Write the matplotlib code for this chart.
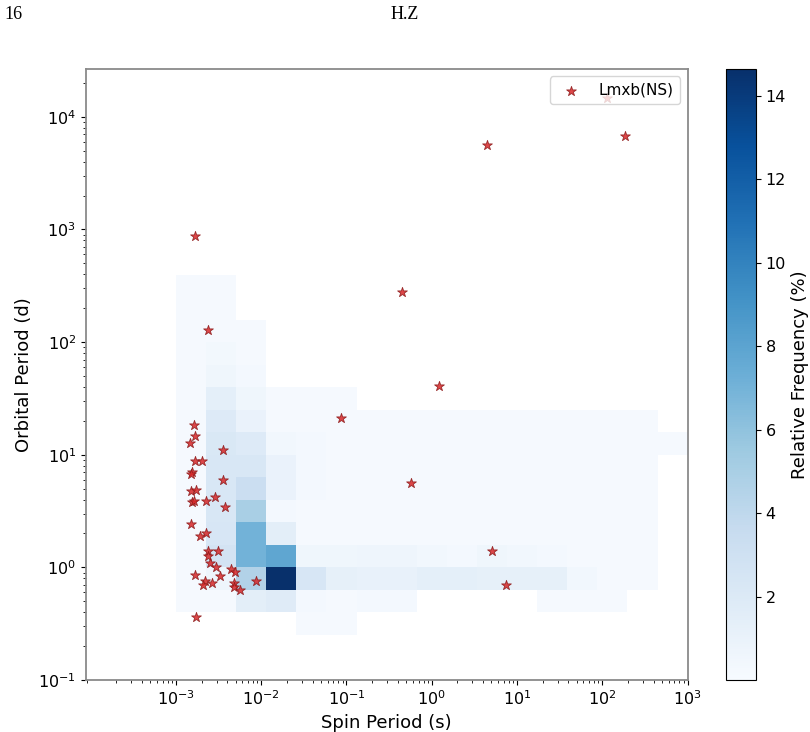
import numpy as np
import matplotlib
matplotlib.use("Agg")
import matplotlib.pyplot as plt

# bin edges (log10)
x_edge_exp = np.linspace(-3, 3, 18)
y_edge_exp = np.linspace(-0.6, 2.6, 17)

# relative frequency (%) per bin, rows from top (10^2.4-10^2.6) down to bottom (10^-0.6-10^-0.4)
freq_rows = [
    [0.2, 0.2, 0,   0,    0,   0,   0,    0,    0,   0,    0,   0,   0,    0,   0,   0,   0],
    [0.2, 0.2, 0,   0,    0,   0,   0,    0,    0,   0,    0,   0,   0,    0,   0,   0,   0],
    [0.2, 0.2, 0.2, 0,    0,   0,   0,    0,    0,   0,    0,   0,   0,    0,   0,   0,   0],
    [0.2, 0.4, 0.2, 0,    0,   0,   0,    0,    0,   0,    0,   0,   0,    0,   0,   0,   0],
    [0.2, 0.6, 0.3, 0,    0,   0,   0,    0,    0,   0,    0,   0,   0,    0,   0,   0,   0],
    [0.2, 1.4, 0.6, 0.2,  0.2, 0.2, 0,    0,    0,   0,    0,   0,   0,    0,   0,   0,   0],
    [0.2, 1.9, 1.0, 0.2,  0.2, 0.2, 0.2,  0.2,  0.2, 0.2,  0.2, 0.2, 0.2,  0.2, 0.2, 0.2, 0],
    [0.2, 2.2, 1.9, 0.5,  0.3, 0.2, 0.2,  0.2,  0.2, 0.2,  0.2, 0.2, 0.2,  0.2, 0.2, 0.2, 0.2],
    [0.2, 2.3, 2.3, 1.0,  0.3, 0.2, 0.2,  0.2,  0.2, 0.2,  0.2, 0.2, 0.2,  0.2, 0.2, 0.2, 0],
    [0.2, 2.3, 3.3, 1.0,  0.3, 0.2, 0.2,  0.2,  0.2, 0.2,  0.2, 0.2, 0.2,  0.2, 0.2, 0.2, 0],
    [0.2, 2.3, 5.0, 0.3,  0.2, 0.2, 0.2,  0.2,  0.2, 0.2,  0.2, 0.2, 0.2,  0.2, 0.2, 0.2, 0],
    [0.2, 2.4, 7.1, 1.5,  0.2, 0.2, 0.2,  0.2,  0.2, 0.2,  0.2, 0.2, 0.2,  0.2, 0.2, 0.2, 0],
    [0.2, 2.7, 7.1, 7.9,  0.6, 0.6, 0.66, 0.66, 0.5, 0.35, 0.6, 0.5, 0.35, 0.2, 0.2, 0.2, 0],
    [0.2, 0.7, 4.6, 14.6, 2.4, 1.3, 1.1,  1.1,  1.4, 1.4,  1.3, 1.3, 1.3,  0.5, 0.2, 0.2, 0],
    [0.2, 0.2, 1.5, 1.8,  0.3, 0.2, 0.3,  0.3,  0,   0,    0,   0,   0.2,  0.2, 0.2, 0,   0],
    [0,   0,   0,   0,    0.2, 0.2, 0,    0,    0,   0,    0,   0,   0,    0,   0,   0,   0],
]

# LMXB neutron stars: spin period (s) and orbital period (d)
lmxb_spin = [
    1.67e-3, 2.40e-3, 0.444, 4.44, 183, 114, 1.20, 0.0857, 0.574, 5.12, 7.48,
    1.64e-3, 1.67e-3, 1.46e-3, 3.60e-3, 1.69e-3, 2.02e-3, 1.54e-3, 1.51e-3, 3.54e-3,
    1.50e-3, 1.71e-3, 1.54e-3, 1.64e-3, 2.27e-3, 2.86e-3, 3.72e-3, 1.49e-3, 1.90e-3,
    2.27e-3, 2.40e-3, 3.08e-3, 2.40e-3, 2.50e-3, 2.92e-3, 4.48e-3,
    1.69e-3, 4.99e-3, 3.32e-3, 2.18e-3, 2.06e-3, 2.65e-3, 4.85e-3, 4.74e-3, 5.64e-3,
    8.69e-3, 1.73e-3,
]
lmxb_orb = [
    883, 128, 281, 5680, 6820, 14600, 40.5, 21.1, 5.57, 1.39, 0.692,
    18.5, 14.8, 12.7, 11.0, 8.74, 8.74, 7.03, 6.77, 5.91,
    4.80, 4.87, 3.77, 3.85, 3.85, 4.25, 3.46, 2.44, 1.89,
    2.00, 1.39, 1.39, 1.26, 1.09, 1.01, 0.96,
    0.861, 0.916, 0.835, 0.751, 0.702, 0.734, 0.724, 0.674, 0.631,
    0.762, 0.365,
]

fig = plt.figure(figsize=(8.1, 7.32), dpi=100)
ax = fig.add_axes([0.106, 0.071, 0.743, 0.835])
cax = fig.add_axes([0.896, 0.071, 0.037, 0.835])

#heatmap
freq = np.ma.masked_equal(np.array(freq_rows[::-1]), 0)
mesh = ax.pcolormesh(10 ** x_edge_exp, 10 ** y_edge_exp, freq, cmap="Blues", vmin=0.01, vmax=14.65)

#stars
ax.scatter(lmxb_spin, lmxb_orb, marker="*", s=55, color="#d62728", edgecolors="#8b1a1a",
           linewidths=0.6, alpha=0.85, label="Lmxb(NS)", zorder=3)

ax.set_xscale("log")
ax.set_yscale("log")
ax.set_xlim(8.8e-5, 1e3)
ax.set_ylim(1e-1, 2.67e4)
ax.set_xticks([1e-3, 1e-2, 1e-1, 1e0, 1e1, 1e2, 1e3])
ax.tick_params(labelsize=11.5)
for s in ax.spines.values():
    s.set_color("#8a8a8a")
    s.set_linewidth(1.3)

ax.set_xlabel("Spin Period (s)", fontsize=13)
ax.set_ylabel("Orbital Period (d)", fontsize=13)
ax.legend(loc="upper right", fontsize=11)

#colorbar
cb = fig.colorbar(mesh, cax=cax)
cb.set_ticks([2, 4, 6, 8, 10, 12, 14])
cb.ax.tick_params(labelsize=11.5)
cb.set_label("Relative Frequency (%)", fontsize=13)

#page header
fig.text(0.006, 0.98, "16", family="Liberation Serif", fontsize=13, va="center")
fig.text(0.5, 0.98, "H.Z", family="Liberation Serif", fontsize=13, ha="center", va="center")

plt.savefig("out.png", dpi=100)
